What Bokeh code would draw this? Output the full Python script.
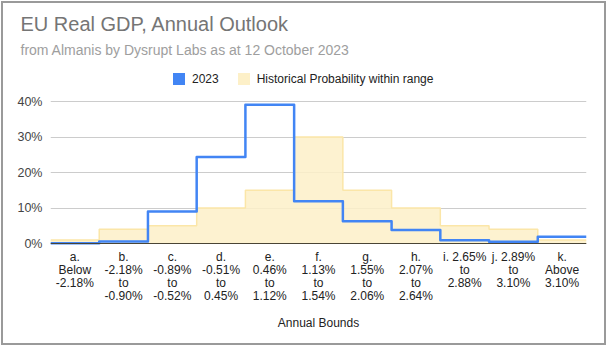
from bokeh.plotting import figure
from bokeh.models import (Range1d, FixedTicker, PrintfTickFormatter, Span, Title,
                          Legend, LegendItem)
from bokeh.embed import file_html
from bokeh.resources import INLINE

# ---- data ----
categories = ["a.\nBelow\n-2.18%", "b.\n-2.18%\nto\n-0.90%", "c.\n-0.89%\nto\n-0.52%",
              "d.\n-0.51%\nto\n0.45%", "e.\n0.46%\nto\n1.12%", "f.\n1.13%\nto\n1.54%",
              "g.\n1.55%\nto\n2.06%", "h.\n2.07%\nto\n2.64%", "i. 2.65%\nto\n2.88%",
              "j. 2.89%\nto\n3.10%", "k.\nAbove\n3.10%"]
outlook_2023 = [0.1, 0.6, 9.0, 24.4, 39.1, 11.9, 6.3, 3.8, 0.9, 0.5, 1.9]
historical = [1.0, 4.0, 5.0, 10.0, 15.0, 30.0, 15.0, 10.0, 5.0, 4.0, 1.0]
y_ticks = [0, 10, 20, 30, 40]

FONT = "Liberation Sans"
n = len(categories)
edges = list(range(n + 1))
blue_y = outlook_2023 + [outlook_2023[-1]]
hist_y = historical + [historical[-1]]

# frame: x 50..586, y 62..245 ; 40% gridline at y=101
p = figure(width=607, height=346, output_backend="svg", toolbar_location=None,
           x_range=Range1d(0, n), y_range=Range1d(-0.56, 50.99),
           min_border_left=50, min_border_right=21, min_border_top=62,
           min_border_bottom=101, background_fill_alpha=0,
           border_fill_color="white", border_fill_alpha=0, outline_line_color=None)
p.title.visible = False

# historical area
p.varea_step(x=edges, y1=[0] * (n + 1), y2=hist_y, step_mode="after",
             fill_color="#fdf0c8", fill_alpha=0.85)
p.step(x=edges, y=hist_y, mode="after", line_color="#fbe6a8", line_width=1.5)

# baseline
p.add_layout(Span(location=0, dimension="width", line_color="#4a4535", line_width=1.2))

# 2023 line
p.step(x=edges, y=blue_y, mode="after", line_color="#4285f4", line_width=2.5,
       line_join="round")

# axes
p.xaxis.ticker = FixedTicker(ticks=[i + 0.5 for i in range(n)])
p.xaxis.major_label_overrides = {i + 0.5: categories[i] for i in range(n)}
p.xaxis.axis_line_color = None
p.xaxis.major_tick_line_color = None
p.xaxis.minor_tick_line_color = None
p.xaxis.major_label_text_font = FONT
p.xaxis.major_label_text_font_size = "12px"
p.xaxis.major_label_text_color = "#222222"
p.xaxis.major_label_text_line_height = 0.95
p.xaxis.major_label_standoff = -2
p.xaxis.axis_label = "Annual Bounds"
p.xaxis.axis_label_text_font = FONT
p.xaxis.axis_label_text_font_size = "12px"
p.xaxis.axis_label_text_font_style = "normal"
p.xaxis.axis_label_text_color = "#222222"
p.xaxis.axis_label_standoff = 10

p.yaxis.ticker = FixedTicker(ticks=y_ticks)
p.yaxis.formatter = PrintfTickFormatter(format="%d%%")
p.yaxis.axis_line_color = None
p.yaxis.major_tick_line_color = None
p.yaxis.minor_tick_line_color = None
p.yaxis.major_label_text_font = FONT
p.yaxis.major_label_text_font_size = "12.5px"
p.yaxis.major_label_text_color = "#444444"
p.yaxis.major_label_standoff = 2

p.xgrid.grid_line_color = None
p.ygrid.ticker = FixedTicker(ticks=y_ticks)
p.ygrid.grid_line_color = "#cccccc"
p.ygrid.grid_line_width = 1

# legend (inside the upper, empty part of the frame)
r1 = p.quad(left=[-9], right=[-8], bottom=[-9], top=[-8], fill_color="#4285f4",
            line_color=None)
r2 = p.quad(left=[-9], right=[-8], bottom=[-9], top=[-8], fill_color="#fdf0c8",
            line_color=None)
legend = Legend(items=[LegendItem(label="2023", renderers=[r1]),
                       LegendItem(label="Historical Probability within range",
                                  renderers=[r2])],
                orientation="horizontal", location=(121, 159),
                border_line_color=None, background_fill_alpha=0,
                label_text_font=FONT, label_text_font_size="12px",
                label_text_color="#222222", glyph_width=15, glyph_height=15,
                label_standoff=6, spacing=17, padding=0, margin=0,
                label_height=15)
p.add_layout(legend)

# subtitle then title (outer)
p.add_layout(Title(text="from Almanis by Dysrupt Labs as at 12 October 2023",
                   align="left", offset=-30, standoff=10, text_font=FONT,
                   text_font_size="14px", text_font_style="normal",
                   text_color="#9e9e9e"), "above")
p.add_layout(Title(text="EU Real GDP, Annual Outlook", align="left", offset=-30,
                   standoff=-1, text_font=FONT, text_font_size="20px",
                   text_font_style="normal", text_color="#757575"), "above")

# outer frame
p.styles = {"outline": "2px solid #9a9a9a", "outline-offset": "-3px"}

open("out.html", "w").write(file_html(p, INLINE))
